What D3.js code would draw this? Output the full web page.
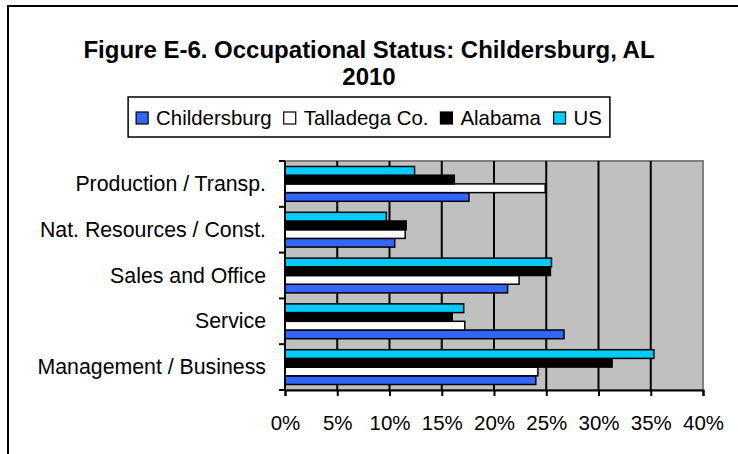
<!DOCTYPE html>
<html>
<head>
<meta charset="utf-8">
<script src="https://cdn.jsdelivr.net/npm/d3@7"></script>
<style>
	body { margin: 0; background: #fff; }
	svg { display: block; font-family: Arial, "Liberation Sans", sans-serif; }
</style>
</head>
<body>
<svg id="chart" width="738" height="454"></svg>
<script>
const categories = ['Management / Business', 'Service', 'Sales and Office', 'Nat. Resources / Const.', 'Production / Transp.'];
const seriesNames = ['Childersburg', 'Talladega Co.', 'Alabama', 'US'];
const seriesColors = ['#3366ff', '#ffffff', '#000000', '#00ccff'];
const childersburg = [24.0, 26.7, 21.3, 10.5, 17.6];
const talladega = [24.2, 17.2, 22.4, 11.5, 24.9];
const alabama = [31.3, 16.0, 25.4, 11.6, 16.2];
const us = [35.3, 17.1, 25.5, 9.7, 12.4];
const xTicks = [0, 5, 10, 15, 20, 25, 30, 35, 40];

const seriesValues = [childersburg, talladega, alabama, us];

const svg = d3.select('#chart'),
	plot = {left: 285, right: 703, top: 161, bottom: 390};

// chart frame, cut off at right and bottom like the source
svg.append('rect')
	.attr('x', 8).attr('y', 6)
	.attr('width', 760).attr('height', 480)
	.attr('fill', 'none').attr('stroke', '#000').attr('stroke-width', 2);

svg.append('text')
	.attr('x', 369).attr('y', 58)
	.attr('text-anchor', 'middle')
	.style('font-size', '24px').style('font-weight', 'bold')
	.text('Figure E-6. Occupational Status: Childersburg, AL');
svg.append('text')
	.attr('x', 369).attr('y', 85)
	.attr('text-anchor', 'middle')
	.style('font-size', '24px').style('font-weight', 'bold')
	.text('2010');

// legend
const legend = svg.append('g');
const legendItems = legend.selectAll('g')
	.data(seriesNames)
	.enter()
	.append('g');
legendItems.append('rect')
	.attr('width', 12).attr('height', 12)
	.attr('y', 112)
	.attr('fill', (_, i) => seriesColors[i])
	.attr('stroke', '#000').attr('stroke-width', 1.2);
legendItems.append('text')
	.attr('x', 20).attr('y', 125)
	.style('font-size', '20.4px')
	.text(d => d);
let lx = 0;
legendItems.each(function () {
	d3.select(this).attr('transform', `translate(${lx},0)`);
	lx += this.getBBox().width + 12;
});
const legendWidth = lx - 12 + 16,
	legendLeft = 369 - legendWidth / 2;
legend.attr('transform', `translate(${legendLeft + 8},0)`);
legend.insert('rect', ':first-child')
	.attr('x', -8).attr('y', 97)
	.attr('width', legendWidth).attr('height', 40)
	.attr('fill', '#fff').attr('stroke', '#000').attr('stroke-width', 1.5);

// scales
const x = d3.scaleLinear().domain([0, 40]).range([plot.left, plot.right]);
const y = d3.scaleBand()
	.domain(categories)
	.range([plot.bottom, plot.top])
	.paddingInner(0.24)
	.paddingOuter(0.12);
const ySeries = d3.scaleBand()
	.domain(d3.range(seriesNames.length).reverse())
	.range([0, y.bandwidth()]);

svg.append('rect')
	.attr('x', plot.left).attr('y', plot.top)
	.attr('width', plot.right - plot.left).attr('height', plot.bottom - plot.top)
	.attr('fill', '#c0c0c0').attr('stroke', '#808080').attr('stroke-width', 2);

svg.append('g')
	.selectAll('line')
	.data(xTicks.slice(1, -1))
	.enter()
	.append('line')
	.attr('x1', d => x(d)).attr('x2', d => x(d))
	.attr('y1', plot.top).attr('y2', plot.bottom)
	.attr('stroke', '#000').attr('stroke-width', 2);

// bars
svg.append('g')
	.selectAll('g')
	.data(categories)
	.enter()
	.append('g')
	.attr('transform', d => `translate(0,${y(d)})`)
	.selectAll('rect')
	.data((_, ci) => seriesValues.map((vals, si) => ({si, v: vals[ci]})))
	.enter()
	.append('rect')
	.attr('x', x(0))
	.attr('y', d => ySeries(d.si))
	.attr('width', d => x(d.v) - x(0))
	.attr('height', ySeries.bandwidth())
	.attr('fill', d => seriesColors[d.si])
	.attr('stroke', '#000').attr('stroke-width', 1.5);

// axes
const xAxis = svg.append('g')
	.attr('transform', `translate(0,${plot.bottom})`)
	.call(d3.axisBottom(x).tickValues(xTicks).tickFormat(d => d + '%').tickSizeOuter(0).tickSize(6).tickPadding(19));
xAxis.attr('font-family', null).attr('font-size', null);
xAxis.select('.domain').attr('stroke-width', 2);
xAxis.selectAll('.tick line').attr('stroke-width', 2);
xAxis.selectAll('text').style('font-size', '20.5px').attr('fill', '#000');

const yBounds = d3.range(categories.length + 1).map(i => plot.bottom - i * y.step());
svg.append('line')
	.attr('x1', plot.left).attr('x2', plot.left)
	.attr('y1', plot.top).attr('y2', plot.bottom)
	.attr('stroke', '#000').attr('stroke-width', 2);
svg.append('g')
	.selectAll('line')
	.data(yBounds)
	.enter()
	.append('line')
	.attr('x1', plot.left - 6).attr('x2', plot.left)
	.attr('y1', d => d).attr('y2', d => d)
	.attr('stroke', '#000').attr('stroke-width', 2);

svg.append('g')
	.selectAll('text')
	.data(categories)
	.enter()
	.append('text')
	.attr('x', 266)
	.attr('y', d => y(d) + y.bandwidth() / 2 + 7)
	.attr('text-anchor', 'end')
	.style('font-size', '21.3px')
	.text(d => d);
</script>
</body>
</html>
